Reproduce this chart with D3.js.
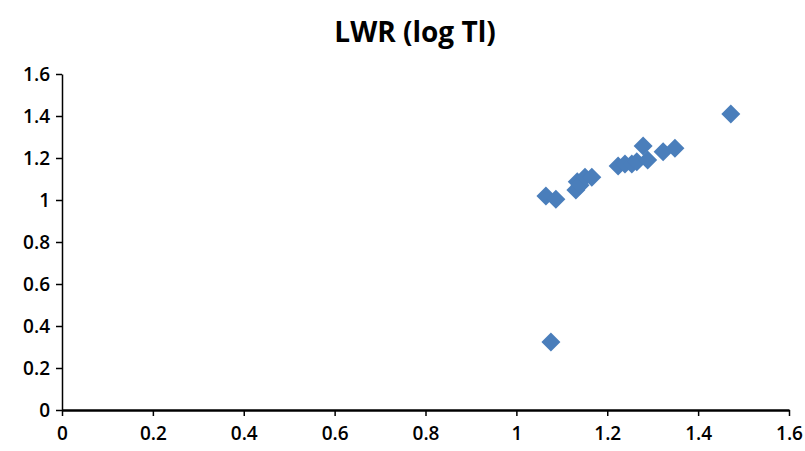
<!DOCTYPE html>
<html>
<head>
<meta charset="utf-8">
<script src="https://cdn.jsdelivr.net/npm/d3@7"></script>
<style>
body{margin:0;background:#fff;}
svg text{font-family:"Open Sans","Liberation Sans",sans-serif;}
</style>
</head>
<body>
<div id="plot"></div>
<script>
// data
var xVals = [1.065,1.087,1.131,1.134,1.140,1.151,1.166,1.224,1.239,1.254,1.265,1.279,1.289,1.323,1.349,1.472,1.076];
var yVals = [1.019,1.003,1.048,1.087,1.070,1.108,1.108,1.162,1.171,1.171,1.182,1.257,1.190,1.230,1.246,1.410,0.324];
var xTicks = [0,0.2,0.4,0.6,0.8,1,1.2,1.4,1.6];
var yTicks = [0,0.2,0.4,0.6,0.8,1,1.2,1.4,1.6];
var title = 'LWR (log Tl)';

var W = 805, H = 451;
var margin = {t:74,r:16,b:41,l:62};
var width = W-margin.l-margin.r,
	height = H-margin.t-margin.b;

var svg = d3.select('#plot')
	.append('svg')
	.attr('width',W)
	.attr('height',H);

var plot = svg.append('g')
	.attr('transform','translate('+margin.l+','+margin.t+')');

var x = d3.scaleLinear().domain([0,1.6]).range([0,width]);
var y = d3.scaleLinear().domain([0,1.6]).range([height,0]);

var fmt = function(d){return d===0?'0':String(+d.toFixed(1));};

var yAxis = plot.append('g')
	.call(d3.axisLeft(y).tickValues(yTicks).tickSize(6).tickSizeOuter(0).tickFormat(fmt));
var xAxis = plot.append('g')
	.attr('transform','translate(0,'+height+')')
	.call(d3.axisBottom(x).tickValues(xTicks).tickSize(6).tickSizeOuter(0).tickFormat(fmt));

[xAxis,yAxis].forEach(function(a){
	a.attr('font-size',null).attr('font-family',null);
	a.select('.domain').attr('stroke','#000').attr('stroke-width',1.5);
	a.selectAll('.tick line').attr('stroke','#000').attr('stroke-width',1.5);
	a.selectAll('.tick text')
		.attr('fill','#000')
		.attr('font-size','19px')
		.attr('font-weight','600')
		.style('font-size','19px');
});
xAxis.select('.domain').attr('stroke-width',2.5);
xAxis.selectAll('.tick text').attr('y',13).attr('dy','0.9em');
yAxis.selectAll('.tick text').attr('x',-12);

var pts = xVals.map(function(v,i){return {x:v,y:yVals[i]};});

plot.selectAll('path.pt')
	.data(pts)
	.enter()
	.append('path')
	.attr('class','pt')
	.attr('d','M0,-9.5L9.5,0L0,9.5L-9.5,0Z')
	.attr('transform',function(d){return 'translate('+x(d.x)+','+y(d.y)+')';})
	.style('fill','#4a7ebb');

svg.append('text')
	.attr('x',415)
	.attr('y',42)
	.attr('text-anchor','middle')
	.style('font-size','28px')
	.style('font-weight','bold')
	.text(title);
</script>
</body>
</html>
